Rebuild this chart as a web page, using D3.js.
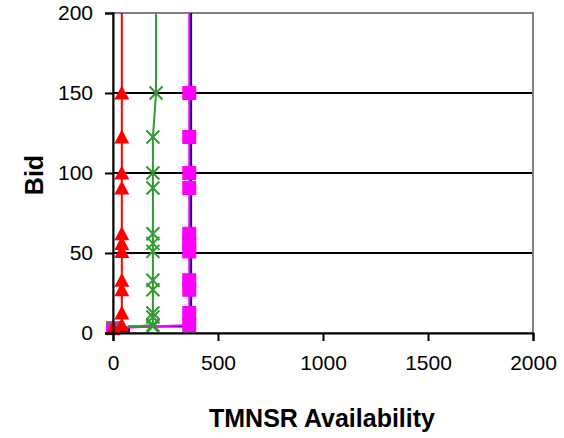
<!DOCTYPE html>
<html>
<head>
<meta charset="utf-8">
<script src="https://cdn.jsdelivr.net/npm/d3@7"></script>
<style>
  body { margin: 0; background: #fff; }
  svg { font-family: "Liberation Sans", Arial, sans-serif; }
</style>
</head>
<body>
<svg id="chart"></svg>
<script>
// supply curves: bid vs availability
var xTicks = [0, 500, 1000, 1500, 2000];
var yTicks = [0, 50, 100, 150, 200];

var bids = [3, 5, 12.5, 27, 33, 51, 56, 62, 90.6, 100, 122.5, 150, 300];

var redX     = [0, 42, 42, 42, 42, 42, 42, 42, 42, 42, 42, 42, 42];
var greenX   = [0, 190, 190, 190, 190, 190, 190, 190, 190, 190, 190, 205, 205];
var magentaX = [0, 363, 363, 363, 363, 363, 363, 363, 363, 363, 363, 363, 363];

var greenExtraBids = [4, 10];      // extra crosses near the bottom
var navyX = [0, 76, 76, 372, 372];
var navyBids = [1, 1, 4, 4, 300];

var width = 564, height = 438;
var margin = {left: 113, right: 31, top: 13, bottom: 105};
var iw = width - margin.left - margin.right,
    ih = height - margin.top - margin.bottom;

var svg = d3.select("#chart").attr("width", width).attr("height", height);

var x = d3.scaleLinear().domain([0, 2000]).range([0, iw]);
var y = d3.scaleLinear().domain([0, 200]).range([ih, 0]);

var g = svg.append("g").attr("transform", "translate(" + margin.left + "," + margin.top + ")");

svg.append("defs").append("clipPath").attr("id", "clip")
  .append("rect").attr("x", 0).attr("y", 0).attr("width", iw).attr("height", ih);

// gridlines
g.selectAll("line.grid")
  .data(yTicks.filter(function(d) { return d > 0 && d < 200; }))
  .enter().append("line")
    .attr("class", "grid")
    .attr("x1", 0).attr("x2", iw)
    .attr("y1", function(d) { return y(d); })
    .attr("y2", function(d) { return y(d); })
    .attr("stroke", "#000").attr("stroke-width", 2);

// plot border
g.append("rect")
  .attr("x", 0).attr("y", 0).attr("width", iw).attr("height", ih)
  .attr("fill", "none").attr("stroke", "#808080").attr("stroke-width", 2);

function pts(xs, ys) {
  return xs.map(function(d, i) { return [d, ys[i]]; });
}

var line = d3.line()
  .x(function(d) { return x(d[0]); })
  .y(function(d) { return y(d[1]); });

var series = g.append("g").attr("clip-path", "url(#clip)");

series.append("path")
  .datum(pts(navyX, navyBids))
  .attr("d", line).attr("fill", "none")
  .attr("stroke", "#000080").attr("stroke-width", 2);

series.append("path")
  .datum(pts(magentaX, bids))
  .attr("d", line).attr("fill", "none")
  .attr("stroke", "#ff00ff").attr("stroke-width", 2);

series.append("path")
  .datum(pts(greenX, bids))
  .attr("d", line).attr("fill", "none")
  .attr("stroke", "#339933").attr("stroke-width", 2);

series.append("path")
  .datum(pts(redX, bids))
  .attr("d", line).attr("fill", "none")
  .attr("stroke", "#ff0000").attr("stroke-width", 2);

// markers
var visible = function(d) { return d[1] <= 200; };

g.selectAll("rect.sq")
  .data(pts(magentaX, bids).filter(visible))
  .enter().append("rect")
    .attr("class", "sq")
    .attr("x", function(d) { return x(d[0]) - 7; })
    .attr("y", function(d) { return y(d[1]) - 7; })
    .attr("width", 14).attr("height", 14)
    .attr("fill", "#ff00ff");

var crossPts = pts(greenX, bids).filter(visible)
  .concat(greenExtraBids.map(function(b) { return [190, b]; }));

g.selectAll("path.cross")
  .data(crossPts)
  .enter().append("path")
    .attr("class", "cross")
    .attr("transform", function(d) { return "translate(" + x(d[0]) + "," + y(d[1]) + ")"; })
    .attr("d", "M-6.5,-6.5L6.5,6.5M-6.5,6.5L6.5,-6.5")
    .attr("stroke", "#339933").attr("stroke-width", 2).attr("fill", "none");

g.selectAll("path.tri")
  .data(pts(redX, bids).filter(visible))
  .enter().append("path")
    .attr("class", "tri")
    .attr("transform", function(d) { return "translate(" + x(d[0]) + "," + y(d[1]) + ")"; })
    .attr("d", "M0,-7.5L7.5,6.5L-7.5,6.5Z")
    .attr("fill", "#ff0000");

// axes
var yAxis = g.append("g")
  .call(d3.axisLeft(y).tickValues(yTicks).tickSize(8).tickPadding(12)
    .tickFormat(d3.format("d")));
var xAxis = g.append("g")
  .attr("transform", "translate(0," + ih + ")")
  .call(d3.axisBottom(x).tickValues(xTicks).tickSize(8).tickPadding(14)
    .tickFormat(d3.format("d")));

[yAxis, xAxis].forEach(function(a) {
  a.select(".domain").attr("stroke", "#000").attr("stroke-width", 2);
  a.selectAll(".tick line").attr("stroke", "#000").attr("stroke-width", 2);
  a.selectAll(".tick text")
    .attr("fill", "#000")
    .style("font-size", "21px")
    .style("font-family", "Liberation Sans, Arial, sans-serif");
});

// axis titles
svg.append("text")
  .attr("x", margin.left + iw / 2 - 1)
  .attr("y", 427)
  .attr("text-anchor", "middle")
  .attr("font-weight", "bold")
  .style("font-size", "25px")
  .text("TMNSR Availability");

svg.append("text")
  .attr("transform", "translate(43," + (margin.top + ih / 2 + 2) + ") rotate(-90)")
  .attr("text-anchor", "middle")
  .attr("font-weight", "bold")
  .style("font-size", "25px")
  .text("Bid");
</script>
</body>
</html>
